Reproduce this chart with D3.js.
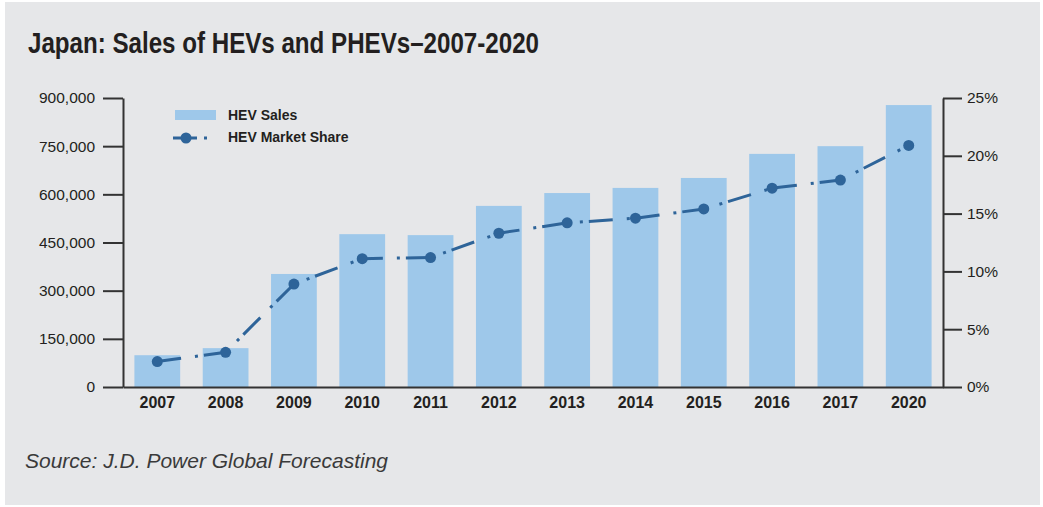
<!DOCTYPE html>
<html>
<head>
<meta charset="utf-8">
<script src="https://cdn.jsdelivr.net/npm/d3@7"></script>
<style>
  html, body { margin: 0; padding: 0; background: #ffffff; }
  svg { display: block; }
</style>
</head>
<body>
<svg id="chart" width="1043" height="507"></svg>
<script>
// ---- Data ----
const years = ['2007','2008','2009','2010','2011','2012','2013','2014','2015','2016','2017','2020'];
const hevSales = [99000, 121000, 352000, 476000, 473000, 564000, 604000, 620000, 651000, 726000, 750000, 878000];
const hevShare = [2.2, 3.0, 8.9, 11.1, 11.2, 13.3, 14.2, 14.6, 15.4, 17.2, 17.9, 20.9];
const leftTicks = [0, 150000, 300000, 450000, 600000, 750000, 900000];
const rightTicks = [0, 5, 10, 15, 20, 25];
const titleText = 'Japan: Sales of HEVs and PHEVs\u20132007-2020';
const sourceText = 'Source: J.D. Power Global Forecasting';
const legendLabels = ['HEV Sales', 'HEV Market Share'];

// ---- Styles ----
const BG = '#e6e7e9';
const BAR = '#9ec8ea';
const LINE = '#2e6499';
const INK = '#231f20';
const FONT = '"Liberation Sans", Arial, Helvetica, sans-serif';

const svg = d3.select('#chart');

svg.append('rect').attr('x', 5).attr('y', 2).attr('width', 1035).attr('height', 503).attr('fill', BG);

// Title (condensed look)
svg.append('text')
  .attr('x', 28).attr('y', 53)
  .attr('font-family', FONT)
  .attr('font-weight', 'bold')
  .attr('font-size', 30)
  .attr('fill', INK)
  .attr('textLength', 511)
  .attr('lengthAdjust', 'spacingAndGlyphs')
  .text(titleText);

// Scales
const x = d3.scaleBand().domain(years).range([123, 943]).paddingInner(0.33).paddingOuter(0.167);
const yL = d3.scaleLinear().domain([0, 900000]).range([387, 98]);
const yR = d3.scaleLinear().domain([0, 25]).range([387, 98]);

// Bars
svg.append('g').selectAll('rect').data(years).join('rect')
  .attr('x', d => x(d))
  .attr('y', (d, i) => yL(hevSales[i]))
  .attr('width', x.bandwidth())
  .attr('height', (d, i) => yL(0) - yL(hevSales[i]))
  .attr('fill', BAR);

// Left axis
const fmt = d3.format(',');
const gL = svg.append('g').attr('transform', 'translate(123,0)')
  .call(d3.axisLeft(yL).tickValues(leftTicks).tickFormat(fmt).tickSize(20).tickPadding(8).tickSizeOuter(0));
gL.select('.domain').attr('stroke', '#333').attr('stroke-width', 2);
gL.selectAll('.tick line').attr('stroke', '#333').attr('stroke-width', 2);
gL.selectAll('.tick text').attr('font-family', FONT).attr('font-size', 15.5).attr('fill', INK);

// Right axis
const gR = svg.append('g').attr('transform', 'translate(943,0)')
  .call(d3.axisRight(yR).tickValues(rightTicks).tickFormat(d => d + '%').tickSize(19).tickPadding(5).tickSizeOuter(0));
gR.select('.domain').attr('stroke', '#333').attr('stroke-width', 2);
gR.selectAll('.tick line').attr('stroke', '#333').attr('stroke-width', 2);
gR.selectAll('.tick text').attr('font-family', FONT).attr('font-size', 15.5).attr('fill', INK);

// Bottom axis
const gB = svg.append('g').attr('transform', 'translate(0,387)')
  .call(d3.axisBottom(x).tickSize(0).tickPadding(10));
gB.select('.domain').attr('stroke', '#333').attr('stroke-width', 2);
gB.selectAll('.tick text').attr('font-family', FONT).attr('font-weight', 'bold').attr('font-size', 16).attr('fill', INK);

// Line
const lineGen = d3.line().x((d, i) => x(years[i]) + x.bandwidth() / 2).y(d => yR(d));
svg.append('path').datum(hevShare)
  .attr('d', lineGen)
  .attr('fill', 'none')
  .attr('stroke', LINE)
  .attr('stroke-width', 3)
  .attr('stroke-dasharray', '24,14,3,6');
svg.append('g').selectAll('circle').data(hevShare).join('circle')
  .attr('cx', (d, i) => x(years[i]) + x.bandwidth() / 2)
  .attr('cy', d => yR(d))
  .attr('r', 5.5)
  .attr('fill', LINE);

// Legend
const lg = svg.append('g');
lg.append('rect').attr('x', 175).attr('y', 110).attr('width', 41).attr('height', 10).attr('fill', BAR);
lg.append('line').attr('x1', 173).attr('x2', 208).attr('y1', 138).attr('y2', 138)
  .attr('stroke', LINE).attr('stroke-width', 3).attr('stroke-dasharray', '24,7,3,20');
lg.append('circle').attr('cx', 186).attr('cy', 138).attr('r', 5.5).attr('fill', LINE);
lg.selectAll('text').data(legendLabels).join('text')
  .attr('x', 228).attr('y', (d, i) => i === 0 ? 120 : 142)
  .attr('font-family', FONT)
  .attr('font-weight', 'bold').attr('font-size', 14).attr('fill', INK)
  .text(d => d);

// Source
svg.append('text')
  .attr('x', 25).attr('y', 468)
  .attr('font-family', FONT)
  .attr('font-style', 'italic')
  .attr('font-size', 21)
  .attr('fill', '#3a3a3a')
  .text(sourceText);
</script>
</body>
</html>
